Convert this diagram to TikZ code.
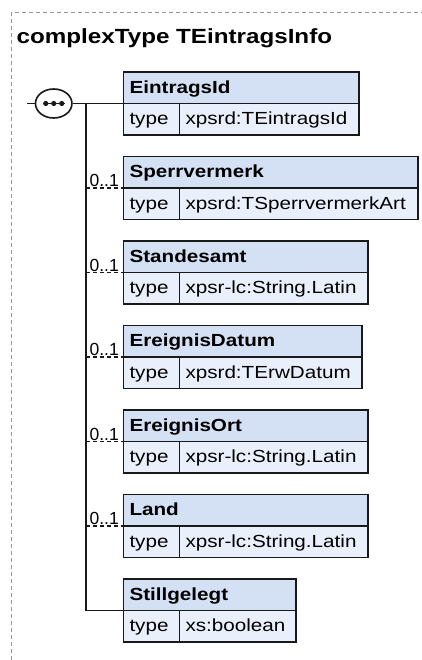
\documentclass[tikz,border=0pt]{standalone}
\usepackage{fontspec}
\setmainfont{Liberation Sans}[FakeStretch=1.18]
\newfontfamily\occfont{Liberation Sans}
\definecolor{HeadBlue}{RGB}{212, 225, 245}
\definecolor{RowBlue}{RGB}{234, 240, 251}
\definecolor{FrameGray}{RGB}{150, 150, 150}
\definecolor{InkBlack}{RGB}{25, 25, 25}
\usepackage{tikz}
\usetikzlibrary{shapes.geometric, positioning}
\hyphenpenalty=10000
\exhyphenpenalty=10000

\begin{document}
\begin{tikzpicture}[
            x=1pt, y=-1pt,
            head/.style={draw=InkBlack, line width=1.6pt, fill=HeadBlue, anchor=north west, outer sep=0pt, inner xsep=6pt, inner ysep=0pt, minimum height=31.5pt, text height=13pt, text depth=2pt, text width=#1, align=flush left, font=\fontsize{17.5}{21}\selectfont\bfseries},
            cell/.style={head=#1, fill=RowBlue, font=\fontsize{17.5}{21}\selectfont}, % type row
            seqsym/.style={ellipse, draw=InkBlack, line width=1.6pt, fill=white, minimum width=36.5pt, minimum height=29pt, inner sep=0pt},
            wire/.style={draw=InkBlack, line width=1.6pt},
            optwire/.style={wire, line width=1.4pt, dash pattern=on 4pt off 3pt}, % minOccurs=0
            occ/.style={font=\occfont\fontsize{17.5}{21}\selectfont, inner sep=0pt, anchor=base east, xshift=-4pt, yshift=1.5pt},
            frame/.style={draw=FrameGray, line width=1pt, dash pattern=on 4pt off 3pt}
        ]

        \useasboundingbox (0,0) rectangle (422,660);

        % --- RAMKA I TYTUL ---
        \draw[frame] (11,660) |- (422,13);
        \node[font=\fontsize{20.5}{24}\selectfont\bfseries, inner sep=0pt, anchor=base west] (title) at (16.5,44) {complexType TEintragsInfo};

        % --- SEQUENCE ---
        \coordinate (in) at (27,103.5);
        \coordinate (trunk) at (86,103.5);
        \node[seqsym] (seq) at (53.7,103.5) {};
        \draw[line width=1.4pt, InkBlack] ([xshift=-11pt]seq.center) -- ([xshift=11pt]seq.center);
        \foreach \dx in {-8,0,8}
            \fill[InkBlack] ([xshift=\dx pt]seq.center) circle[radius=2.6pt];

        % --- ELEMENTY ---
        \node[head=223.5pt] (eintrag) at (123.5,72) {EintragsId};
        \node[cell=44pt] (eintrag_t) at (eintrag.south west) {type};
        \node[cell=167.5pt] (eintrag_v) at (eintrag_t.north east) {xpsrd:TEintragsId};

        \node[head=282.5pt] (sperr) at (123.5,156.5) {Sperrvermerk};
        \node[cell=44pt] (sperr_t) at (sperr.south west) {type};
        \node[cell=226.5pt] (sperr_v) at (sperr_t.north east) {xpsrd:TSperrvermerkArt};

        \node[head=232.5pt] (amt) at (123.5,241) {Standesamt};
        \node[cell=44pt] (amt_t) at (amt.south west) {type};
        \node[cell=176.5pt] (amt_v) at (amt_t.north east) {xpsr-lc:String.Latin};

        \node[head=226.5pt] (datum) at (123.5,325.5) {EreignisDatum};
        \node[cell=44pt] (datum_t) at (datum.south west) {type};
        \node[cell=170.5pt] (datum_v) at (datum_t.north east) {xpsrd:TErwDatum};

        \node[head=232.5pt] (ort) at (123.5,410) {EreignisOrt};
        \node[cell=44pt] (ort_t) at (ort.south west) {type};
        \node[cell=176.5pt] (ort_v) at (ort_t.north east) {xpsr-lc:String.Latin};

        \node[head=232.5pt] (land) at (123.5,494.5) {Land};
        \node[cell=44pt] (land_t) at (land.south west) {type};
        \node[cell=176.5pt] (land_v) at (land_t.north east) {xpsr-lc:String.Latin};

        \node[head=160.5pt] (still) at (123.5,579) {Stillgelegt};
        \node[cell=44pt] (still_t) at (still.south west) {type};
        \node[cell=104.5pt] (still_v) at (still_t.north east) {xs:boolean};

        % --- POLACZENIA ---
        \draw[wire] (in) -- (seq);
        \draw[wire] (seq) -- (eintrag.south west);
        \draw[wire] (trunk) |- (still.south west);
        \draw[optwire] (trunk |- sperr.south west) -- (sperr.south west) node[occ] {0..1};
        \draw[optwire] (trunk |- amt.south west) -- (amt.south west) node[occ] {0..1};
        \draw[optwire] (trunk |- datum.south west) -- (datum.south west) node[occ] {0..1};
        \draw[optwire] (trunk |- ort.south west) -- (ort.south west) node[occ] {0..1};
        \draw[optwire] (trunk |- land.south west) -- (land.south west) node[occ] {0..1};

        \end{tikzpicture}
\end{document}
